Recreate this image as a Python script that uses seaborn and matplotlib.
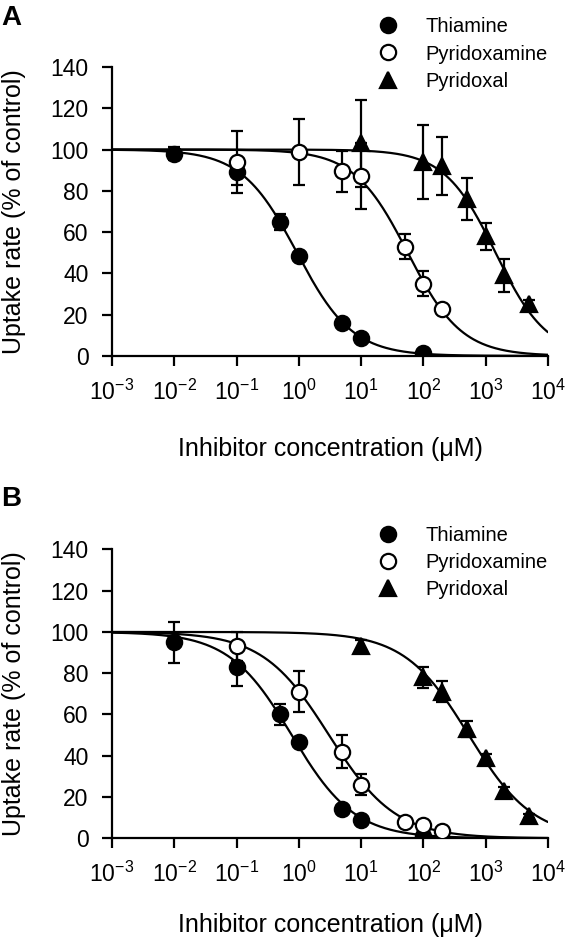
import numpy as np
import pandas as pd
import matplotlib
matplotlib.use('Agg')
import matplotlib.pyplot as plt
import seaborn as sns

# Concentrations (uM) and uptake (% of control)
thia_conc = [0.01, 0.1, 0.5, 1, 5, 10, 100]
pyam_conc = [0.1, 1, 5, 10, 50, 100, 200]
pyal_conc = [10, 100, 200, 500, 1000, 2000, 5000]

# Panel A
a_thia_mean = [98, 89, 65, 48.5, 16, 8.5, 1.5]
a_thia_err = [3, 6, 4, 2, 1.5, 1, 1]
a_pyam_mean = [94, 99, 89.5, 87, 53, 35, 22.5]
a_pyam_err = [15, 16, 10, 16, 6, 6, 2]
a_pyal_mean = [103, 94, 92, 76, 58, 39, 25]
a_pyal_err = [21, 18, 14, 10, 6.5, 8, 2]

# Panel B
b_thia_mean = [95, 83, 60, 46.5, 14, 9, 1]
b_thia_err = [10, 9, 5, 2, 2, 1, 1]
b_pyam_mean = [93, 71, 42, 26, 8, 6.5, 3.5]
b_pyam_err = [7, 10, 8, 5, 1, 1, 1]
b_pyal_mean = [93, 78, 71, 53, 39, 23, 11]
b_pyal_err = [3, 5, 5, 4, 2, 2, 1]

compounds = ['Thiamine', 'Pyridoxamine', 'Pyridoxal']
xtick_labels = ['$\\mathdefault{10^{-3}}$', '$\\mathdefault{10^{-2}}$', '$\\mathdefault{10^{-1}}$',
                '$\\mathdefault{10^{0}}$', '$\\mathdefault{10^{1}}$', '$\\mathdefault{10^{2}}$',
                '$\\mathdefault{10^{3}}$', '$\\mathdefault{10^{4}}$']
yticks = [0, 20, 40, 60, 80, 100, 120, 140]

sns.set_style('ticks')
plt.rcParams['font.family'] = ['Liberation Sans', 'DejaVu Sans']
plt.rcParams['mathtext.fontset'] = 'custom'
plt.rcParams['mathtext.rm'] = 'Liberation Sans'
plt.rcParams['text.color'] = 'black'
plt.rcParams['axes.labelcolor'] = 'black'


def fit_curve(conc, mean):
    # crude least squares of a one-site inhibition curve (top 100, bottom 0)
    x = np.log10(np.array(conc, float))
    y = np.array(mean, float)
    lic = np.arange(-3, 5, 0.005)[:, None, None]
    h = np.arange(0.3, 2.0, 0.005)[None, :, None]
    pred = 100 / (1 + 10 ** (h * (x[None, None, :] - lic)))
    sse = ((pred - y) ** 2).sum(axis=2)
    i, j = np.unravel_index(sse.argmin(), sse.shape)
    xs = np.logspace(-3, 4, 400)
    ys = 100 / (1 + 10 ** (h[0, j, 0] * (np.log10(xs) - lic[i, 0, 0])))
    return xs, ys


styles = {
    'Thiamine': dict(marker='o', mfc='black', ms=11),
    'Pyridoxamine': dict(marker='o', mfc='white', ms=11),
    'Pyridoxal': dict(marker='^', mfc='black', ms=12),
}

fig = plt.figure(figsize=(5.66, 9.44), dpi=100)
axA = fig.add_axes([0.198, 0.623, 0.770, 0.306])
axB = fig.add_axes([0.198, 0.112, 0.770, 0.306])

# (axes, letter, letter y, legend y, x-label y, data)
panels = [
    (axA, 'A', 1.215, 1.045, -0.322,
     [(thia_conc, a_thia_mean, a_thia_err), (pyam_conc, a_pyam_mean, a_pyam_err),
      (pyal_conc, a_pyal_mean, a_pyal_err)]),
    (axB, 'B', 1.22, 0.955, -0.301,
     [(thia_conc, b_thia_mean, b_thia_err), (pyam_conc, b_pyam_mean, b_pyam_err),
      (pyal_conc, b_pyal_mean, b_pyal_err)]),
]

for ax, letter, let_y, leg_y, xl_y, series in panels:
    handles = []
    for name, (conc, mean, err) in zip(compounds, series):
        xs, ys = fit_curve(conc, mean)
        curve = pd.DataFrame({'x': xs, 'y': ys})
        sns.lineplot(data=curve, x='x', y='y', ax=ax, color='black', lw=1.6, zorder=2)
        st = styles[name]
        ax.errorbar(conc, mean, yerr=err, fmt='none', ecolor='black', elinewidth=1.6,
                    capsize=4.5, capthick=1.6, zorder=3)
        h = ax.plot(conc, mean, ls='none', marker=st['marker'], mfc=st['mfc'], mec='black',
                    mew=1.6, ms=st['ms'], zorder=4, label=name)[0]
        handles.append(h)

    ax.set_xscale('log')
    ax.set_xlim(1e-3, 1e4)
    ax.set_ylim(0, 140)
    ax.set_xticks([1e-3, 1e-2, 1e-1, 1, 10, 100, 1e3, 1e4])
    ax.set_xticklabels(xtick_labels)
    ax.minorticks_off()
    ax.set_yticks(yticks)
    ax.tick_params(axis='both', direction='out', length=7, width=1.6, colors='black')
    ax.tick_params(axis='x', pad=10, labelsize=16.5)
    ax.tick_params(axis='y', pad=10, labelsize=16.5)
    for sp in ['left', 'bottom']:
        ax.spines[sp].set_linewidth(1.6)
        ax.spines[sp].set_color('black')
    sns.despine(ax=ax)
    ax.set_xlabel('Inhibitor concentration (\u03bcM)', fontsize=18, va='center')
    ax.xaxis.set_label_coords(0.5, xl_y)
    ax.set_ylabel('Uptake rate (% of control)', fontsize=18, va='center')
    ax.yaxis.set_label_coords(-0.226, 0.5)
    ax.legend(handles=handles, loc='center left', bbox_to_anchor=(0.592, leg_y),
              frameon=False, fontsize=14.5, handlelength=1.0, handletextpad=1.34,
              labelspacing=0.4, borderaxespad=0)
    ax.text(-0.254, let_y, letter, transform=ax.transAxes, fontsize=20, fontweight='bold',
            va='top', ha='left')

fig.savefig('out.png', dpi=100)
